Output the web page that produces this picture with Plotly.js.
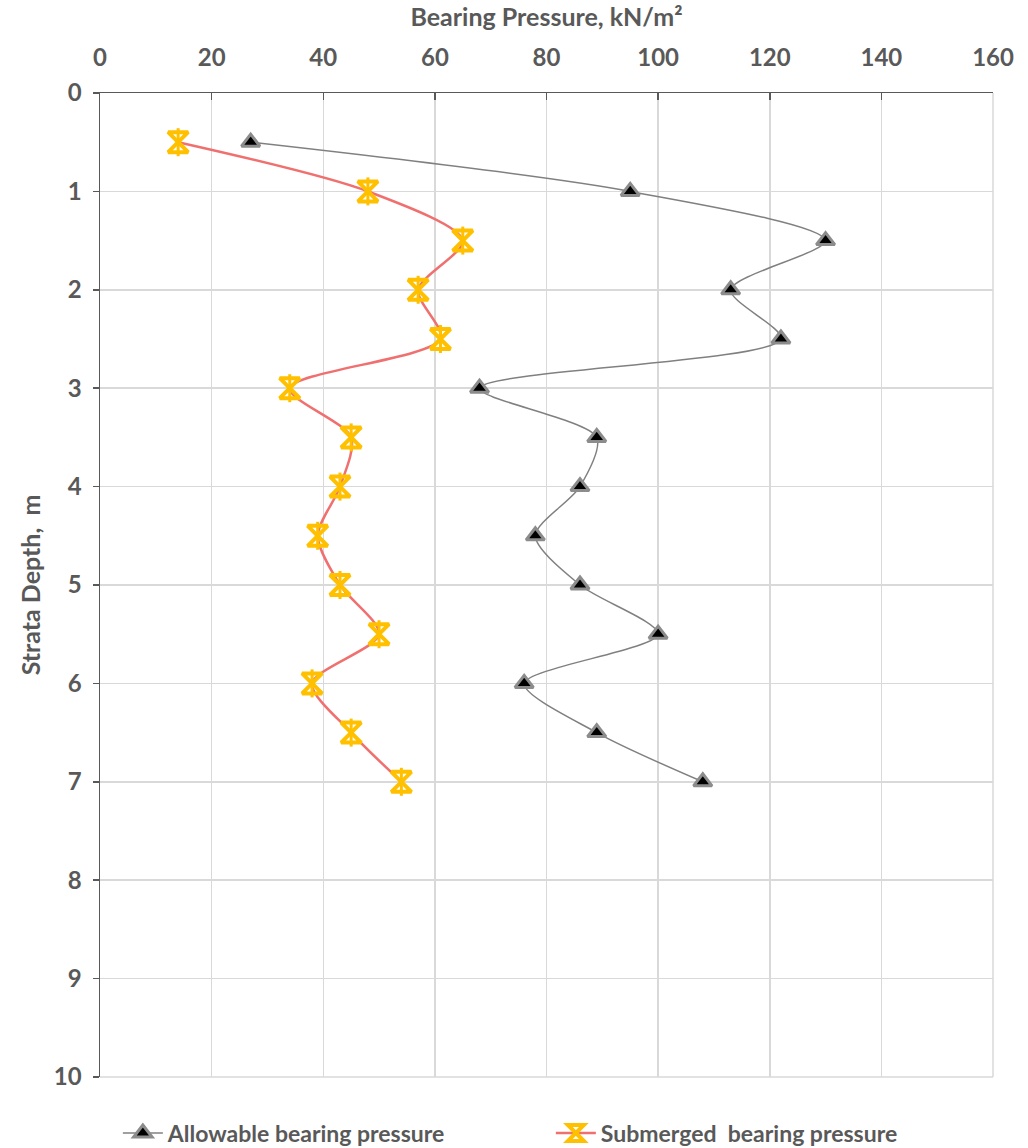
<!DOCTYPE html>
<html>
<head>
<meta charset="utf-8">
<script src="https://cdn.plot.ly/plotly-3.0.1.min.js"></script>
<style>html,body{margin:0;padding:0;background:#fff;}#chart{width:1028px;height:1148px;}</style>
</head>
<body>
<div id="chart"></div>
<script>
const depth = [0.5, 1, 1.5, 2, 2.5, 3, 3.5, 4, 4.5, 5, 5.5, 6, 6.5, 7];
const allowable = [27, 95, 130, 113, 122, 68, 89, 86, 78, 86, 100, 76, 89, 108];
const submerged = [14, 48, 65, 57, 61, 34, 45, 43, 39, 43, 50, 38, 45, 54];
const seriesNames = ['Allowable bearing pressure', 'Submerged  bearing pressure'];
const xTicks = [0, 20, 40, 60, 80, 100, 120, 140, 160];
const yTicks = [0, 1, 2, 3, 4, 5, 6, 7, 8, 9, 10];

const fontFam = 'Lato, "Liberation Sans Narrow", sans-serif';
const textColor = '#595959';

const traces = [
  {
    x: allowable, y: depth, name: seriesNames[0], mode: 'lines+markers', type: 'scatter',
    line: {color: '#808080', width: 1.5, shape: 'spline', smoothing: 0.8},
    marker: {symbol: 'triangle-up', size: 16, color: '#000000', line: {color: '#8c8c8c', width: 3}}
  },
  {
    x: submerged, y: depth, name: seriesNames[1], mode: 'lines+markers', type: 'scatter',
    line: {color: '#f07070', width: 2.5, shape: 'spline', smoothing: 0.8},
    marker: {symbol: 'hourglass-open', size: 20, color: '#ffc000', line: {color: '#ffc000', width: 4}}
  },
  {
    x: submerged, y: depth, showlegend: false, mode: 'markers', type: 'scatter', hoverinfo: 'skip',
    marker: {symbol: 'line-ns-open', size: 20, color: '#ffc000', line: {color: '#ffc000', width: 3}}
  }
];

const layout = {
  width: 1028, height: 1148,
  margin: {l: 100, r: 35, t: 93, b: 71, autoexpand: false},
  paper_bgcolor: '#ffffff', plot_bgcolor: '#ffffff',
  font: {family: fontFam, color: textColor, size: 24},
  showlegend: true,
  legend: {orientation: 'h', x: 0.02, xanchor: 'left', y: -0.057, yanchor: 'middle',
           entrywidth: 378, entrywidthmode: 'pixels',
           font: {family: fontFam, size: 23, color: textColor, weight: 'bold'}, itemwidth: 40, tracegroupgap: 0},
  xaxis: {
    side: 'top', range: [0, 160], tickvals: xTicks, ticktext: xTicks.map(String),
    showgrid: true, gridcolor: '#d9d9d9', gridwidth: 1.5,
    showline: true, linecolor: '#595959', linewidth: 1.5,
    ticks: 'inside', ticklen: 7, tickcolor: '#595959', tickwidth: 1.5,
    ticklabelstandoff: 16,
    tickfont: {family: fontFam, size: 24, color: textColor, weight: 'bold'},
    zeroline: false, mirror: false,
    title: {text: 'Bearing Pressure, kN/m²', font: {family: fontFam, size: 25, color: textColor, weight: 'bold'}, standoff: 8}
  },
  yaxis: {
    range: [10, 0], tickvals: yTicks, ticktext: yTicks.map(String),
    showgrid: true, gridcolor: '#d9d9d9', gridwidth: 1.5,
    showline: true, linecolor: '#595959', linewidth: 1.5,
    ticks: 'outside', ticklen: 6, tickcolor: '#595959', tickwidth: 1.5,
    ticklabelstandoff: 6,
    tickfont: {family: fontFam, size: 24, color: textColor, weight: 'bold'},
    zeroline: false,
    title: {text: 'Strata Depth,  m', font: {family: fontFam, size: 25, color: textColor, weight: 'bold'}, standoff: 6}
  },
  shapes: [
    {type: 'line', xref: 'paper', yref: 'paper', x0: 1, x1: 1, y0: 0, y1: 1, line: {color: '#d9d9d9', width: 1.5}},
    {type: 'line', xref: 'paper', yref: 'paper', x0: 0, x1: 1, y0: 0, y1: 0, line: {color: '#d9d9d9', width: 1.5}}
  ]
};

Plotly.newPlot('chart', traces, layout, {displayModeBar: false, staticPlot: true});
</script>
</body>
</html>
